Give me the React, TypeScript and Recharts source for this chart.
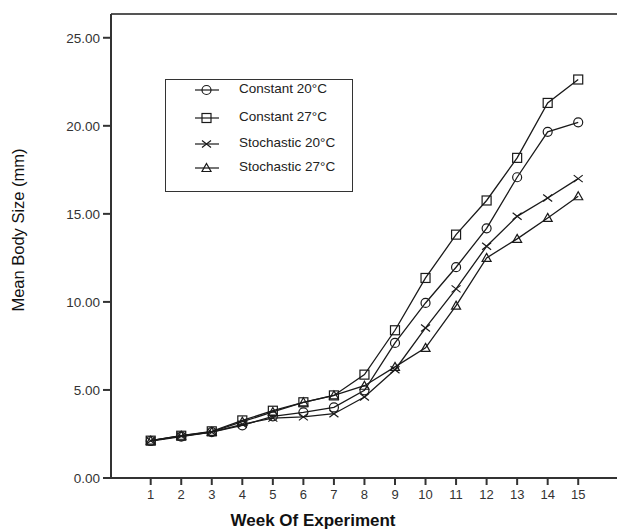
import React from "react";
import {
  Legend,
  Line,
  LineChart,
  ReferenceLine,
  XAxis,
  YAxis,
} from "recharts";

const weeks = [1, 2, 3, 4, 5, 6, 7, 8, 9, 10, 11, 12, 13, 14, 15];
const constant20 = [2.1, 2.35, 2.6, 2.99, 3.5, 3.73, 4.01, 4.98, 7.67, 9.94, 11.97, 14.18, 17.08, 19.66, 20.2];
const constant27 = [2.12, 2.4, 2.65, 3.27, 3.82, 4.3, 4.69, 5.87, 8.39, 11.36, 13.82, 15.76, 18.18, 21.3, 22.63];
const stochastic20 = [2.12, 2.38, 2.6, 3.05, 3.4, 3.47, 3.65, 4.6, 6.15, 8.52, 10.74, 13.16, 14.86, 15.9, 17.0];
const stochastic27 = [2.12, 2.4, 2.62, 3.2, 3.75, 4.3, 4.69, 5.24, 6.31, 7.39, 9.79, 12.5, 13.58, 14.77, 16.0];
const yTicks = [0, 5, 10, 15, 20, 25];

const FONT = "'Liberation Sans', Arial, sans-serif";
const INK = "#1a1a1a";
const Y_MAX = 26.35;

const data = weeks.map((w, i) => ({
  week: w,
  c20: constant20[i],
  c27: constant27[i],
  s20: stochastic20[i],
  s27: stochastic27[i],
}));

type Shape = "circle" | "square" | "cross" | "triangle";

function Marker({ shape, x, y }: { shape: Shape; x: number; y: number }) {
  const p = { fill: "none", stroke: INK, strokeWidth: 1.2 };
  if (shape === "circle") return <circle cx={x} cy={y} r={4.5} {...p} />;
  if (shape === "square")
    return <rect x={x - 4.5} y={y - 4.5} width={9} height={9} {...p} />;
  if (shape === "triangle")
    return (
      <polygon
        points={`${x},${y - 4.5} ${x + 4.5},${y + 3.5} ${x - 4.5},${y + 3.5}`}
        {...p}
      />
    );
  return (
    <path
      d={`M${x - 4.5},${y - 3.5}L${x + 4.5},${y + 3.5}M${x - 4.5},${y + 3.5}L${x + 4.5},${y - 3.5}`}
      {...p}
    />
  );
}

const dotFor = (shape: Shape) => (props: any) => {
  const { cx, cy, index } = props;
  if (cx == null || cy == null) return <g key={`${shape}-${index}`} />;
  return (
    <g key={`${shape}-${index}`}>
      <Marker shape={shape} x={cx} y={cy} />
    </g>
  );
};

const series: { key: string; name: string; shape: Shape }[] = [
  { key: "c20", name: "Constant 20°C", shape: "circle" },
  { key: "c27", name: "Constant 27°C", shape: "square" },
  { key: "s20", name: "Stochastic 20°C", shape: "cross" },
  { key: "s27", name: "Stochastic 27°C", shape: "triangle" },
];

function LegendBox() {
  const rows = [11, 39, 65, 89];
  return (
    <svg width={188} height={113} style={{ display: "block" }}>
      <rect x={0.5} y={0.5} width={187} height={112} fill="#fff" stroke="#333" strokeWidth={1} />
      {series.map((s, i) => (
        <g key={s.key}>
          <line x1={30} x2={54} y1={rows[i]} y2={rows[i]} stroke={INK} strokeWidth={1.2} />
          <Marker shape={s.shape} x={41.5} y={rows[i]} />
          <text
            x={74}
            y={rows[i] + 3}
            fontSize={13.5}
            fontFamily={FONT}
            fill="#222"
          >
            {s.name}
          </text>
        </g>
      ))}
    </svg>
  );
}

export default function App() {
  return (
    <div style={{ position: "absolute", left: 0, top: 0, background: "#fff" }}>
      <LineChart
        width={617}
        height={529}
        data={data}
        margin={{ top: 14, right: 0, bottom: 0, left: 0 }}
      >
        <ReferenceLine y={Y_MAX} stroke="#555" strokeWidth={2.2} />
        <XAxis
          dataKey="week"
          type="number"
          domain={[-0.3, 16.27]}
          ticks={weeks}
          allowDataOverflow
          height={51}
          tickSize={7}
          tickMargin={5}
          axisLine={{ stroke: "#333", strokeWidth: 2 }}
          tickLine={{ stroke: "#333", strokeWidth: 2 }}
          tick={{ fontSize: 13, fill: "#333", fontFamily: FONT }}
          label={{
            content: () => (
              <text
                x={313}
                y={526}
                textAnchor="middle"
                fontSize={17}
                fontWeight="bold"
                fontFamily={FONT}
                fill="#111"
              >
                Week Of Experiment
              </text>
            ),
          }}
        />
        <YAxis
          type="number"
          domain={[0, Y_MAX]}
          ticks={yTicks}
          allowDataOverflow
          width={111}
          tickSize={8}
          tickMargin={3}
          tickFormatter={(v: number) => v.toFixed(2)}
          axisLine={{ stroke: "#333", strokeWidth: 2 }}
          tickLine={{ stroke: "#333", strokeWidth: 2 }}
          tick={{ fontSize: 13.5, fill: "#333", fontFamily: FONT }}
          label={{
            content: () => (
              <text
                x={24}
                y={230}
                transform="rotate(-90 24 230)"
                textAnchor="middle"
                fontSize={16.5}
                fontFamily={FONT}
                fill="#111"
              >
                Mean Body Size (mm)
              </text>
            ),
          }}
        />
        <Legend
          layout="horizontal"
          verticalAlign="middle"
          align="center"
          content={() => <LegendBox />}
          wrapperStyle={{ left: 165, top: 79, width: 188, height: 113 }}
        />
        {series.map((s) => (
          <Line
            key={s.key}
            dataKey={s.key}
            name={s.name}
            type="linear"
            stroke={INK}
            strokeWidth={1.3}
            dot={dotFor(s.shape)}
            activeDot={false}
            isAnimationActive={false}
          />
        ))}
      </LineChart>
    </div>
  );
}
